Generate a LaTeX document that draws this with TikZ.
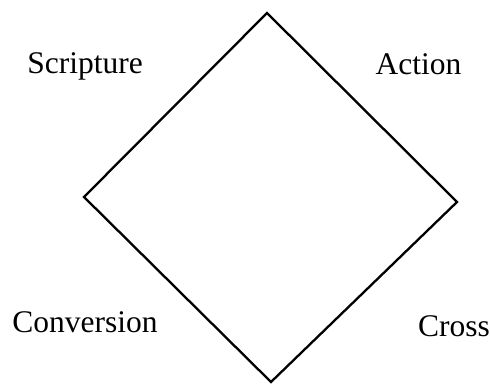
\documentclass[tikz,border=0pt]{standalone}
\usepackage{fontspec}
\setmainfont{Liberation Serif}
\begin{document}
\begin{tikzpicture}[x=1pt,y=1pt,
  lbl/.style={anchor=base,inner sep=0pt,font=\fontsize{31.5}{36}\selectfont},
  edge/.style={line width=2.3pt,line join=miter}]
\useasboundingbox (0,0) rectangle (490,385);
\coordinate (T) at (267,372);
\coordinate (R) at (457,183);
\coordinate (B) at (271,3);
\coordinate (L) at (84,188);
\draw[edge] (T) -- (R) -- (B) -- (L) -- cycle;
\node[lbl] (scr) at (85,311) {Scripture};
\node[lbl] (act) at (418.5,310) {Action};
\node[lbl] (con) at (85,52) {Conversion};
\node[lbl] (cro) at (454,48) {Cross};
\end{tikzpicture}
\end{document}
